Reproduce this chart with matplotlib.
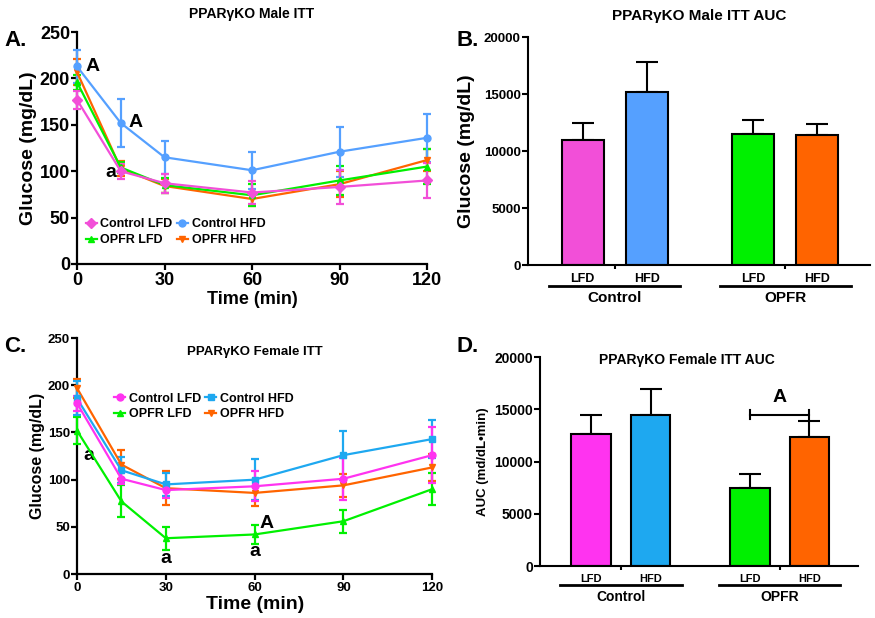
import numpy as np
import matplotlib
matplotlib.use('Agg')
import matplotlib.pyplot as plt
from matplotlib.lines import Line2D

plt.rcParams['font.family'] = ['Liberation Sans', 'DejaVu Sans']
plt.rcParams['font.weight'] = 'bold'

# time course data
times = [0, 15, 30, 60, 90, 120]
groups = ['Control LFD', 'Control HFD', 'OPFR LFD', 'OPFR HFD']

male_mean = {
    'Control LFD': [177, 100, 87, 77, 83, 90],
    'Control HFD': [213, 152, 115, 101, 121, 136],
    'OPFR LFD': [196, 104, 85, 74, 90, 105],
    'OPFR HFD': [207, 103, 84, 70, 86, 112],
}
male_err = {
    'Control LFD': [10, 8, 10, 12, 18, 19],
    'Control HFD': [18, 26, 18, 20, 27, 26],
    'OPFR LFD': [8, 6, 8, 12, 16, 19],
    'OPFR HFD': [14, 8, 8, 8, 14, 12],
}
female_mean = {
    'Control LFD': [181, 101, 89, 93, 101, 126],
    'Control HFD': [186, 110, 95, 100, 126, 143],
    'OPFR LFD': [152, 77, 38, 42, 56, 90],
    'OPFR HFD': [197, 116, 91, 86, 94, 113],
}
female_err = {
    'Control LFD': [8, 6, 8, 16, 22, 30],
    'Control HFD': [18, 14, 12, 22, 26, 20],
    'OPFR LFD': [14, 17, 12, 10, 12, 17],
    'OPFR HFD': [10, 15, 18, 14, 12, 14],
}

# AUC data
diet_labels = ['LFD', 'HFD', 'LFD', 'HFD']
treat_labels = ['Control', 'OPFR']
male_auc = [11000, 15200, 11500, 11400]
male_auc_err = [1500, 2600, 1250, 950]
female_auc = [12600, 14500, 7500, 12400]
female_auc_err = [1900, 2500, 1300, 1500]

colors_m = {'Control LFD': '#F24FD8', 'Control HFD': '#55A0FF',
            'OPFR LFD': '#00F000', 'OPFR HFD': '#FF6400'}
colors_f = {'Control LFD': '#FF33F0', 'Control HFD': '#1EA8F0',
            'OPFR LFD': '#00F000', 'OPFR HFD': '#FF6400'}
markers_m = {'Control LFD': 'D', 'Control HFD': 'o', 'OPFR LFD': '^', 'OPFR HFD': 'v'}
markers_f = {'Control LFD': 'o', 'Control HFD': 's', 'OPFR LFD': '^', 'OPFR HFD': 'v'}

fig = plt.figure(figsize=(8.75, 6.18), dpi=100)


def style_axes(ax, lw=1.6):
    for s in ['top', 'right']:
        ax.spines[s].set_visible(False)
    for s in ['left', 'bottom']:
        ax.spines[s].set_linewidth(lw)
    ax.tick_params(width=lw, length=4, direction='out')


def line_panel(ax, means, errs, colors, markers, tick_fs, ylab_fs, xlab_fs):
    order = ['OPFR HFD', 'OPFR LFD', 'Control HFD', 'Control LFD']
    for g in order:
        ax.errorbar(times, means[g], yerr=errs[g], color=colors[g], marker=markers[g],
                    ms=5, lw=1.6, elinewidth=1.6, capsize=3, capthick=1.6,
                    clip_on=False, zorder=3)
    style_axes(ax)
    ax.set_xlim(0, 120)
    ax.set_ylim(0, 250)
    ax.set_xticks([0, 30, 60, 90, 120])
    ax.set_yticks([0, 50, 100, 150, 200, 250])
    for lab in ax.get_xticklabels() + ax.get_yticklabels():
        lab.set_fontsize(tick_fs)
        lab.set_fontweight('bold')
    ax.tick_params(axis='y', pad=1)
    ax.tick_params(axis='x', pad=2)
    ax.set_ylabel('Glucose (mg/dL)', fontsize=ylab_fs, fontweight='bold', labelpad=2)
    ax.set_xlabel('Time (min)', fontsize=xlab_fs, fontweight='bold', labelpad=1)


def add_legend(ax, colors, markers, anchor):
    # column-major fill so rows read: Control LFD, Control HFD / OPFR LFD, OPFR HFD
    order = ['Control LFD', 'OPFR LFD', 'Control HFD', 'OPFR HFD']
    handles = [Line2D([], [], color=colors[g], marker=markers[g], ms=5, lw=1.6) for g in order]
    ax.legend(handles, order, ncol=2, loc='lower left', bbox_to_anchor=anchor,
              frameon=False, prop={'size': 9, 'weight': 'bold'}, handlelength=0.9,
              handletextpad=0.3, columnspacing=0.3, labelspacing=0.3, borderaxespad=0.0)


def bar_panel(ax, vals, errs, colors, tick_fs, grp_fs):
    pos = np.array([1, 2, 3.66, 4.66])
    ax.bar(pos, vals, width=0.66, color=colors, edgecolor='black', linewidth=1.5, zorder=2)
    ax.errorbar(pos, vals, yerr=[np.zeros(4), errs], fmt='none', ecolor='black',
                elinewidth=1.5, capsize=8, capthick=1.5, zorder=1)
    style_axes(ax, 1.5)
    ax.set_xlim(0.14, 5.48)
    ax.set_ylim(0, 20000)
    ax.set_yticks([0, 5000, 10000, 15000, 20000])
    ax.set_xticks(pos)
    ax.set_xticklabels(diet_labels, fontsize=grp_fs - 2, fontweight='bold')
    ax.tick_params(axis='x', length=0, pad=6)
    ax.set_xticks([1.5, 4.16], minor=True)
    ax.tick_params(axis='x', which='minor', length=3, width=1.5)
    for lab in ax.get_yticklabels():
        lab.set_fontsize(tick_fs)
        lab.set_fontweight('bold')
    ax.tick_params(axis='y', pad=1)
    trans = ax.get_xaxis_transform()
    for cx, name in zip([1.5, 4.16], treat_labels):
        ax.plot([cx - 1.02, cx + 1.02], [-0.09, -0.09], color='black', lw=2,
                transform=trans, clip_on=False)
        ax.text(cx, -0.115, name, transform=trans, ha='center', va='top',
                fontsize=grp_fs, fontweight='bold')


# Panel A
axA = fig.add_axes([0.088, 0.573, 0.400, 0.375])
line_panel(axA, male_mean, male_err, colors_m, markers_m, 13, 14, 13)
axA.set_title('PPAR\u03b3KO Male ITT', fontsize=10, fontweight='bold', pad=10)
add_legend(axA, colors_m, markers_m, (0.01, 0.055))
axA.text(3, 213, 'A', fontsize=14, fontweight='bold', va='center')
axA.text(17.5, 153, 'A', fontsize=14, fontweight='bold', va='center')
axA.text(13.5, 99, 'a', fontsize=14, fontweight='bold', va='center', ha='right')
fig.text(0.005, 0.925, 'A.', fontsize=16, fontweight='bold')

# Panel B
axB = fig.add_axes([0.603, 0.571, 0.391, 0.369])
bar_panel(axB, male_auc, male_auc_err, [colors_m[g] for g in groups], 9.5, 11)
axB.set_ylabel('Glucose (mg/dL)', fontsize=14, fontweight='bold', labelpad=6)
axB.set_title('PPAR\u03b3KO Male ITT AUC', fontsize=11, fontweight='bold', pad=12)
fig.text(0.522, 0.925, 'B.', fontsize=16, fontweight='bold')

# Panel C
axC = fig.add_axes([0.088, 0.071, 0.406, 0.382])
line_panel(axC, female_mean, female_err, colors_f, markers_f, 9.5, 11.5, 14)
axC.text(60, 235, 'PPAR\u03b3KO Female ITT', fontsize=9.5, fontweight='bold', ha='center', va='center')
add_legend(axC, colors_f, markers_f, (0.09, 0.63))
axC.text(2.3, 126, 'a', fontsize=14, fontweight='bold', va='center')
axC.text(30, 17, 'a', fontsize=14, fontweight='bold', va='center', ha='center')
axC.text(60, 24, 'a', fontsize=14, fontweight='bold', va='center', ha='center')
axC.text(61.5, 54, 'A', fontsize=14, fontweight='bold', va='center')
fig.text(0.005, 0.43, 'C.', fontsize=16, fontweight='bold')

# Panel D
axD = fig.add_axes([0.617, 0.084, 0.364, 0.338])
bar_panel(axD, female_auc, female_auc_err, [colors_f[g] for g in groups], 10, 10)
axD.set_ylabel('AUC (md/dL\u2022min)', fontsize=9.5, fontweight='bold', labelpad=4)
axD.text(2.6, 19700, 'PPAR\u03b3KO Female ITT AUC', fontsize=10, fontweight='bold', ha='center', va='center')
axD.plot([3.66, 4.66], [14500, 14500], color='black', lw=1.5)
axD.plot([3.66, 3.66], [14100, 14900], color='black', lw=1.5)
axD.plot([4.66, 4.66], [14100, 14900], color='black', lw=1.5)
axD.text(4.16, 15300, 'A', fontsize=14, fontweight='bold', ha='center', va='bottom')
fig.text(0.522, 0.43, 'D.', fontsize=16, fontweight='bold')

fig.savefig('out.png', dpi=100)
